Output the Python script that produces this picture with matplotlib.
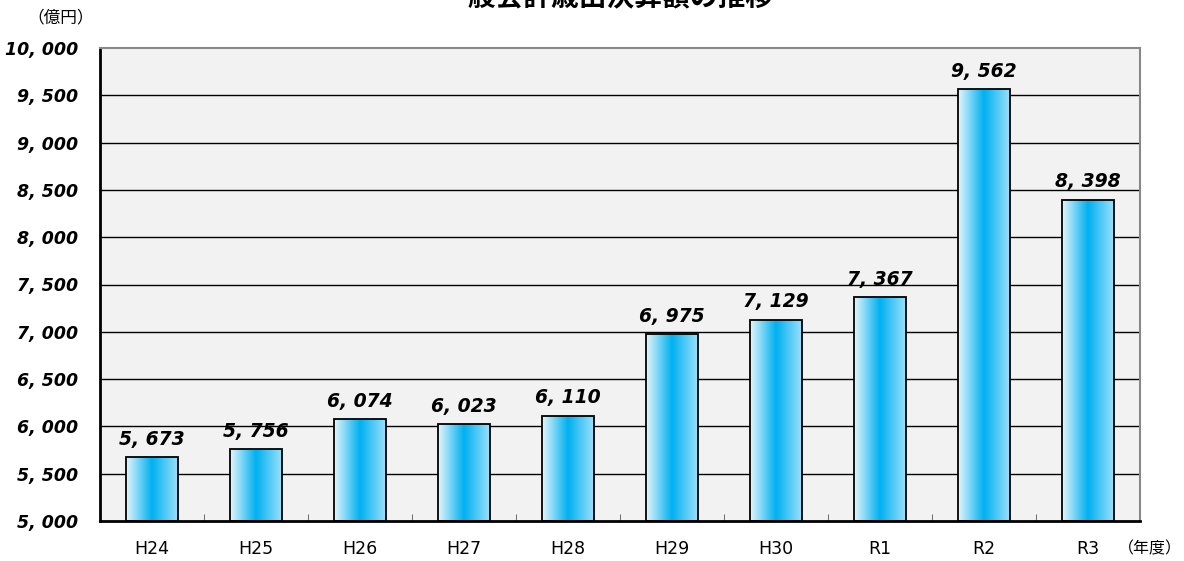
import numpy as np
import matplotlib
matplotlib.use("Agg")
import matplotlib.pyplot as plt
from matplotlib.colors import LinearSegmentedColormap
from matplotlib.patches import Rectangle

plt.rcParams['font.family'] = ['Noto Sans CJK JP', 'DejaVu Sans']

# data (億円)
years = ["H24", "H25", "H26", "H27", "H28", "H29", "H30", "R1", "R2", "R3"]
values = [5673, 5756, 6074, 6023, 6110, 6975, 7129, 7367, 9562, 8398]
yticks = list(range(5000, 10001, 500))

fig = plt.figure(figsize=(11.84, 5.61), dpi=100)
ax = fig.add_axes([100/1184, 40/561, 1040/1184, 473/561])
ax.set_facecolor("#f2f2f2")

xs = np.arange(len(years))
width = 0.5
ax.set_xlim(-0.5, len(years) - 0.5)
ax.set_ylim(5000, 10000)

for y in yticks[1:-1]:
    ax.axhline(y, color="black", linewidth=1.0, zorder=1)

grad = LinearSegmentedColormap.from_list(
    "bar", [(0.0, "#e6f6fd"), (0.5, "#00b0f0"), (1.0, "#9be0fa")])
gimg = np.linspace(0, 1, 256).reshape(1, -1)

for x, v in zip(xs, values):
    rect = Rectangle((x - width/2, 5000), width, v - 5000,
                     facecolor="none", edgecolor="black", linewidth=1.3, zorder=3)
    ax.add_patch(rect)
    im = ax.imshow(gimg, cmap=grad, aspect="auto", zorder=2,
                   extent=(x - width/2, x + width/2, 5000, v))
    im.set_clip_path(rect)
    ax.text(x, v + 90, f"{v // 1000}, {v % 1000:03d}", ha="center", va="bottom",
            fontsize=13.5, fontweight="bold", style="italic", family="DejaVu Sans")

ax.set_yticks(yticks)
ax.set_yticklabels([f"{t // 1000}, {t % 1000:03d}" for t in yticks],
                   fontsize=12.5, fontweight="bold", style="italic", family="DejaVu Sans")
ax.tick_params(axis="y", length=0, pad=16)
ax.set_xticks(xs)
ax.set_xticklabels(years, fontsize=12.5, family="DejaVu Sans")
ax.tick_params(axis="x", length=0, pad=14)
ax.set_xticks(xs[:-1] + 0.5, minor=True)
ax.tick_params(axis="x", which="minor", direction="in", length=5, color="#555555")

for side in ["left", "bottom"]:
    ax.spines[side].set_linewidth(2)
    ax.spines[side].set_color("black")
for side in ["top", "right"]:
    ax.spines[side].set_linewidth(1.5)
    ax.spines[side].set_color("#888888")

fig.text(61/1184, 1 - 18/561, "（億円）", ha="center", va="center", fontsize=12)
fig.text(1150/1184, 1 - 549/561, "（年度）", ha="center", va="center", fontsize=11.5)
fig.text(607/1184, 1 + 2/561, "一般会計歳出決算額の推移", ha="center", va="center",
         fontsize=20, fontweight="bold")

fig.savefig("out.png", dpi=100)
